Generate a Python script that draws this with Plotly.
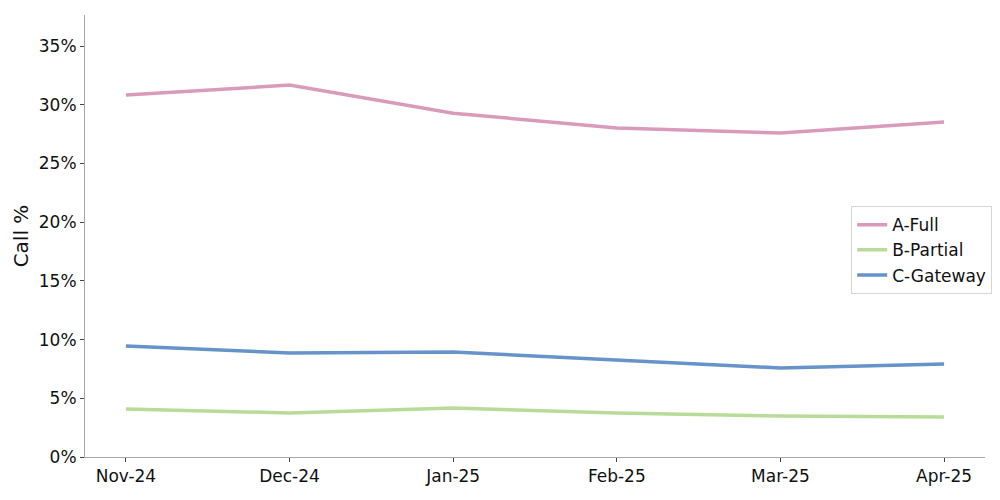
import plotly.graph_objects as go

# ── Data ─────────────────────────────────────────────────────────────────────
MONTHS = ["Nov-24", "Dec-24", "Jan-25", "Feb-25", "Mar-25", "Apr-25"]
A_FULL = [30.83, 31.68, 29.29, 28.02, 27.59, 28.53]
B_PARTIAL = [4.09, 3.75, 4.17, 3.75, 3.49, 3.41]
C_GATEWAY = [9.45, 8.86, 8.94, 8.26, 7.58, 7.92]
Y_TICKS = [0, 5, 10, 15, 20, 25, 30, 35]

COLORS = {
    "A-Full": "#DA9BBB",
    "B-Partial": "#B8DB98",
    "C-Gateway": "#6693C9",
}
FONT = "DejaVu Sans, sans-serif"

fig = go.Figure()
for name, values in [("A-Full", A_FULL), ("B-Partial", B_PARTIAL), ("C-Gateway", C_GATEWAY)]:
    fig.add_trace(go.Scatter(
        x=list(range(len(MONTHS))),
        y=values,
        name=name,
        mode="lines",
        line=dict(color=COLORS[name], width=3.5),
    ))

# page body adds ~8px offset, so the figure is sized a bit smaller
fig.update_layout(
    width=992, height=492,
    margin=dict(l=77, r=15, t=7, b=43),
    plot_bgcolor="white",
    paper_bgcolor="white",
    font=dict(family=FONT, size=17, color="#111"),
    legend=dict(
        x=1.008, xanchor="right", y=0.468, yanchor="middle",
        bordercolor="#d6d6d6", borderwidth=1, bgcolor="rgba(255,255,255,0.85)",
        font=dict(size=17), tracegroupgap=2,
    ),
    showlegend=True,
)
fig.update_xaxes(
    range=[-0.25, 5.25],
    tickvals=list(range(len(MONTHS))), ticktext=MONTHS,
    showgrid=False, zeroline=False,
    showline=True, linecolor="#a8a8a8", linewidth=1,
    ticks="outside", ticklen=4, tickcolor="#444",
)
fig.update_yaxes(
    range=[0, 37.65],
    tickvals=Y_TICKS, ticktext=[f"{v}%" for v in Y_TICKS],
    title=dict(text="Call %", standoff=4),
    showgrid=False, zeroline=False,
    showline=True, linecolor="#a8a8a8", linewidth=1,
    ticks="outside", ticklen=4, tickcolor="#444",
)

fig.write_html("out.html")
